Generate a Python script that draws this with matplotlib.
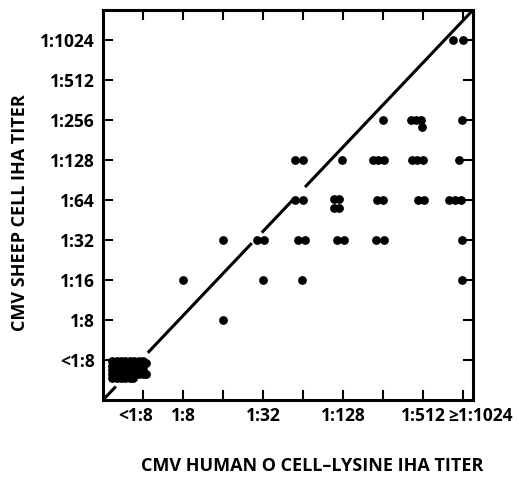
import matplotlib
matplotlib.use('Agg')
import matplotlib.pyplot as plt
import matplotlib.transforms as mtransforms

# titer levels, index 1..9 on both axes
y_ticks = [1, 2, 3, 4, 5, 6, 7, 8, 9]
y_labels = ['<1:8', '1:8', '1:16', '1:32', '1:64', '1:128', '1:256', '1:512', '1:1024']
x_ticks = [1, 2, 3, 4, 5, 6, 7, 8, 9]
x_labels = ['<1:8', '1:8', '', '1:32', '', '1:128', '', '1:512', '\u22651:1024']

# points (x = human O cell titer index, y = sheep cell titer index)
pts_x = [8.74, 9.0,
         7.0, 7.7, 7.83, 7.95, 8.97, 7.97,
         4.8, 5.0, 5.97, 6.75, 6.88, 7.02, 7.72, 7.86, 8.0, 8.9,
         4.8, 5.0, 5.78, 5.9, 5.78, 5.9, 6.84, 7.0, 7.88, 8.02, 8.66, 8.8, 8.95,
         3.0, 3.84, 4.03, 4.88, 5.05, 5.84, 6.03, 6.83, 7.03, 8.97,
         2.0, 4.0, 4.98, 8.98,
         3.0]
pts_y = [9, 9,
         7, 7, 7, 7, 7, 6.83,
         6, 6, 6, 6, 6, 6, 6, 6, 6, 6,
         5, 5, 5.03, 5.03, 4.8, 4.8, 5, 5, 5, 5, 5, 5, 5,
         4, 4, 4, 4, 4, 4, 4, 4, 4, 4,
         3, 3, 3, 3,
         2]

# the <1:8 / <1:8 pile in the lower left corner
cluster_x = [0.23, 0.34, 0.45, 0.56, 0.67, 0.78, 0.89, 1.0] * 4 + \
            [0.23, 0.34, 0.45, 0.56, 0.67, 0.75] + [1.07, 1.07]
cluster_y = [0.97] * 8 + [0.86] * 8 + [0.75] * 8 + [0.65] * 8 + \
            [0.55] * 6 + [0.92, 0.66]

# diagonal line pieces (x ranges), broken where it meets dots
line_x0 = [0.0, 1.12, 3.97, 5.05]
line_x1 = [0.32, 3.72, 4.76, 9.25]
xmax, ymax = 9.25, 9.75

plt.rcParams['font.family'] = ['Open Sans', 'DejaVu Sans']
plt.rcParams['font.weight'] = 'bold'

fig = plt.figure(figsize=(5.19, 4.79), dpi=100)
ax = fig.add_axes([103 / 519, 79 / 479, 370 / 519, 390 / 479])

for a, b in zip(line_x0, line_x1):
    ax.plot([a, b], [a * ymax / xmax, b * ymax / xmax], color='black', lw=2.2,
            solid_capstyle='butt')

ax.scatter(pts_x, pts_y, s=40, color='black', linewidths=0, zorder=3)
ax.scatter(cluster_x, cluster_y, s=40, color='black', linewidths=0, zorder=3)

ax.set_xlim(0, xmax)
ax.set_ylim(0, ymax)
ax.set_xticks(x_ticks)
ax.set_xticklabels(x_labels)
ax.set_yticks(y_ticks)
ax.set_yticklabels(y_labels)
ax.tick_params(direction='in', length=7, width=1.5, top=True, right=True,
               labelsize=12.5, colors='black')
ax.tick_params(axis='x', pad=5)
ax.tick_params(axis='y', pad=6)
for sp in ax.spines.values():
    sp.set_linewidth(2.2)

# nudge first and last x labels like the original
xl = ax.get_xticklabels()
xl[0].set_transform(xl[0].get_transform() + mtransforms.ScaledTranslation(-7 / 100, 0, fig.dpi_scale_trans))
xl[-1].set_transform(xl[-1].get_transform() + mtransforms.ScaledTranslation(17 / 100, 0, fig.dpi_scale_trans))

fig.text(312 / 519, 1 - 466 / 479, 'CMV HUMAN O CELL\u2013LYSINE IHA TITER',
         ha='center', va='center', fontsize=13, fontweight='bold')
fig.text(20 / 519, 1 - 213 / 479, 'CMV SHEEP CELL IHA TITER', rotation=90,
         ha='center', va='center', fontsize=13, fontweight='bold')

fig.savefig('out.png', dpi=100)
